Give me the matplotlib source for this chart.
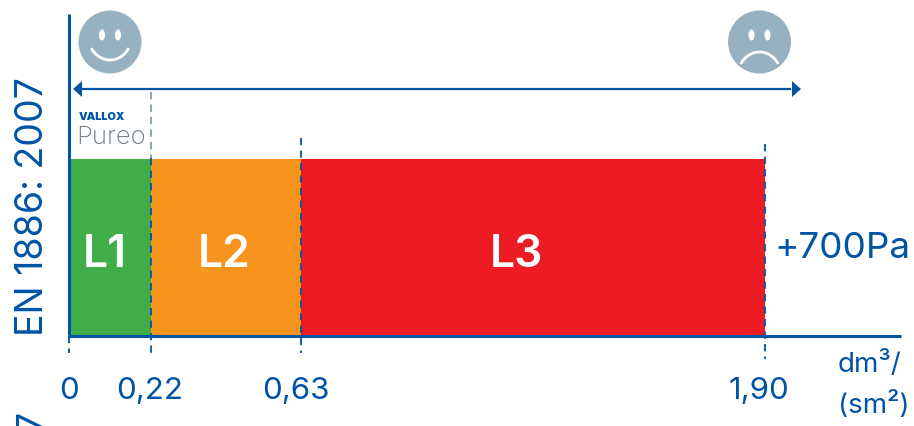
import matplotlib
matplotlib.use('Agg')
import matplotlib.pyplot as plt
from matplotlib.patches import Circle, Ellipse, Arc, Polygon

plt.rcParams['font.family'] = ['Inter', 'DejaVu Sans']

# class limits
edges = [0, 0.224, 0.634, 1.90]
classes = ['L1', 'L2', 'L3']
colors = ['#41ad49', '#f7941d', '#ed1c24']
tick_labels = ['0', '0,22', '0,63', '1,90']
pressure = 700
pressure_label = '+700Pa'
standard = 'EN 1886: 2007'
unit_lines = ['dm³/', '(sm²)']

W, H = 914, 427
BLUE = '#0054a6'
GREY = '#97b1c0'

fig = plt.figure(figsize=(W / 100, H / 100), dpi=100)

# overlay in pixel coords for the decorations
deco = fig.add_axes([0, 0, 1, 1])
deco.set_xlim(0, W)
deco.set_ylim(H, 0)
deco.axis('off')

# chart axes: 0 -> x=69px, 1.90 -> x=765px, y 0..700 -> 336..159px
x0, x1 = 69, 765
y0, y1 = 336, 159.5
ax = fig.add_axes([x0 / W, 1 - y0 / H, (x1 - x0) / W, (y0 - y1) / H], zorder=1)
ax.set_xlim(edges[0], edges[-1])
ax.set_ylim(0, pressure)
ax.axis('off')
for i, name in enumerate(classes):
    ax.bar(edges[i], pressure, width=edges[i + 1] - edges[i], align='edge', color=colors[i], linewidth=0)

# frame lines and arrow sit on top of the bars
top = fig.add_axes([0, 0, 1, 1], zorder=2)
top.set_xlim(0, W)
top.set_ylim(H, 0)
top.axis('off')
top.plot([69, 69], [15, 336], color=BLUE, lw=2.2, solid_capstyle='butt')
top.plot([68, 901], [336.5, 336.5], color=BLUE, lw=2.2, solid_capstyle='butt')

top.plot([80, 790], [90, 90], color=BLUE, lw=1.6)
top.add_patch(Polygon([[73, 90], [82, 82], [82, 98]], color=BLUE, lw=0))
top.add_patch(Polygon([[801, 90], [792, 82], [792, 98]], color=BLUE, lw=0))

dash = (0, (3.5, 2.5))
for x, y_a, y_b, col in [(69, 337, 354, BLUE), (151, 93, 159, '#7d9db5'), (151, 159, 354, BLUE),
                         (301, 139, 354, BLUE), (765, 145, 360, BLUE)]:
    top.plot([x, x], [y_a, y_b], color=col, lw=1.5, linestyle=dash, alpha=0.9)

# class names sit a bit left of the bar centres in the original
for name, x in zip(classes, [105, 224, 516]):
    top.text(x, 255, name, color='white', fontsize=32, fontweight='semibold', ha='center', va='center')

# faces
for cx, happy in [(110, True), (759.5, False)]:
    deco.add_patch(Circle((cx, 43), 31.5, color=GREY, lw=0))
    deco.add_patch(Ellipse((cx - 8, 36), 6, 11, color='white', lw=0))
    deco.add_patch(Ellipse((cx + 8, 36), 6, 11, color='white', lw=0))
    if happy:
        deco.add_patch(Arc((cx, 36), 44, 50, theta1=35, theta2=145, color='white', lw=2))
    else:
        deco.add_patch(Arc((cx, 78), 44, 50, theta1=215, theta2=325, color='white', lw=2))

# logo text
deco.text(79, 117.5, 'VALLOX', color=BLUE, fontsize=7.8, fontweight='black', ha='left', va='center')
deco.text(76, 138, 'Pureo', color='#6f7b88', fontsize=18.5, fontweight='light', ha='left', va='center')

# labels
deco.text(33, 207, standard, color=BLUE, fontsize=27, rotation=90, ha='center', va='center')
deco.text(33, 421, '7', color=BLUE, fontsize=27, rotation=90, ha='center', va='center')
deco.text(774, 249, pressure_label, color=BLUE, fontsize=26.5, ha='left', va='center')

for lab, x in zip(tick_labels, [69, 149.5, 296, 759]):
    deco.text(x, 391.5, lab, color=BLUE, fontsize=22.5, ha='center', va='center')
deco.text(838, 365, unit_lines[0], color=BLUE, fontsize=20, ha='left', va='center')
deco.text(838, 405, unit_lines[1], color=BLUE, fontsize=20, ha='left', va='center')

fig.savefig('out.png', dpi=100)
